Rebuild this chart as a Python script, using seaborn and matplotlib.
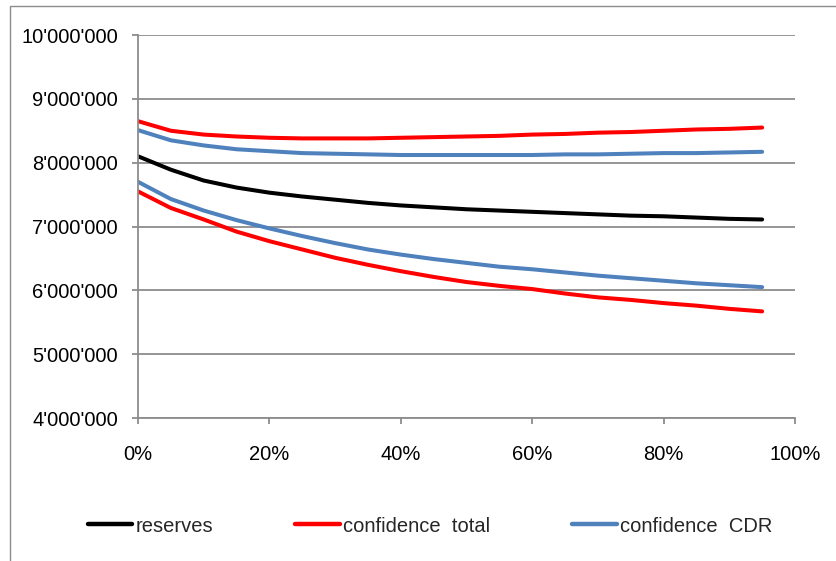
import numpy as np
import pandas as pd
import matplotlib
matplotlib.use("Agg")
import matplotlib.pyplot as plt
from matplotlib.ticker import FuncFormatter
from matplotlib.lines import Line2D
from matplotlib.patches import Rectangle
import seaborn as sns

# quantile level (share) on the x axis
level = [0.00, 0.05, 0.10, 0.15, 0.20, 0.25, 0.30, 0.35, 0.40, 0.45,
         0.50, 0.55, 0.60, 0.65, 0.70, 0.75, 0.80, 0.85, 0.90, 0.95]

reserves = [8.10, 7.89, 7.72, 7.61, 7.53, 7.47, 7.42, 7.37, 7.33, 7.30,
            7.27, 7.25, 7.23, 7.21, 7.19, 7.17, 7.16, 7.14, 7.12, 7.11]

total_upper = [8.65, 8.50, 8.44, 8.41, 8.39, 8.38, 8.38, 8.38, 8.39, 8.40,
               8.41, 8.42, 8.44, 8.45, 8.47, 8.48, 8.50, 8.52, 8.53, 8.55]
total_lower = [7.55, 7.29, 7.11, 6.92, 6.77, 6.64, 6.51, 6.40, 6.30, 6.21,
               6.13, 6.07, 6.02, 5.95, 5.89, 5.85, 5.80, 5.76, 5.71, 5.67]

cdr_upper = [8.51, 8.35, 8.27, 8.21, 8.18, 8.15, 8.14, 8.13, 8.12, 8.12,
             8.12, 8.12, 8.12, 8.13, 8.13, 8.14, 8.15, 8.15, 8.16, 8.17]
cdr_lower = [7.70, 7.43, 7.25, 7.10, 6.97, 6.85, 6.74, 6.64, 6.56, 6.49,
             6.43, 6.37, 6.33, 6.28, 6.23, 6.19, 6.15, 6.11, 6.08, 6.05]

series_names = ["reserves", "confidence  total", "confidence  CDR"]
colors = ["#000000", "#FF0000", "#4F81BD"]
y_ticks = [4_000_000, 5_000_000, 6_000_000, 7_000_000, 8_000_000, 9_000_000, 10_000_000]
x_ticks = [0.0, 0.2, 0.4, 0.6, 0.8, 1.0]

# long-format table: each curve is one (series, bound) unit
rows = []
for name, bound, vals in [
    (series_names[0], "mid", reserves),
    (series_names[1], "upper", total_upper),
    (series_names[1], "lower", total_lower),
    (series_names[2], "upper", cdr_upper),
    (series_names[2], "lower", cdr_lower),
]:
    for x, v in zip(level, vals):
        rows.append({"level": x, "value": v * 1_000_000, "series": name, "bound": bound})
df = pd.DataFrame(rows)

sns.set_theme(style="white")
plt.rcParams["font.family"] = ["Liberation Sans", "DejaVu Sans"]

W, H = 836, 561
fig = plt.figure(figsize=(W / 100, H / 100), dpi=100)
ax = fig.add_axes([138 / W, 1 - 418 / H, 657 / W, 383 / H])

grid_col = "#8C8C8C"
fs = 14.5

sns.lineplot(data=df, x="level", y="value", hue="series", units="bound",
             estimator=None, palette=dict(zip(series_names, colors)),
             hue_order=series_names, linewidth=2.9, legend=False, ax=ax,
             sort=False)
for ln in ax.lines:
    ln.set_solid_capstyle("round")
    ln.set_solid_joinstyle("round")

ax.set_xlim(0, 1)
ax.set_ylim(y_ticks[0], y_ticks[-1])
ax.set_xticks(x_ticks)
ax.set_yticks(y_ticks)
ax.xaxis.set_major_formatter(FuncFormatter(lambda v, p: f"{v * 100:.0f}%"))
ax.yaxis.set_major_formatter(FuncFormatter(lambda v, p: f"{int(round(v)):,}".replace(",", "'")))
ax.set_xlabel("")
ax.set_ylabel("")

ax.yaxis.grid(True, color=grid_col, linewidth=1.3)
ax.xaxis.grid(False)
ax.set_axisbelow(True)
for side in ["top", "right"]:
    ax.spines[side].set_visible(False)
for side in ["left", "bottom"]:
    ax.spines[side].set_color(grid_col)
    ax.spines[side].set_linewidth(1.3)

ax.tick_params(axis="y", which="major", length=4.5, width=1.3, color=grid_col,
               pad=10, labelsize=fs, labelcolor="black", left=True)
ax.tick_params(axis="x", which="major", length=4.5, width=1.3, color=grid_col,
               pad=15, labelsize=fs, labelcolor="black", bottom=True)

handles = [Line2D([0], [0], color=c, linewidth=3.2) for c in colors]
fig.legend(handles, series_names, loc="center", bbox_to_anchor=(430 / W, 1 - 526 / H),
           ncol=3, frameon=False, fontsize=fs, handlelength=2.2,
           handletextpad=0.15, columnspacing=4.1, borderpad=0, borderaxespad=0)

# outer chart frame (only its top and left edges fall inside the canvas)
fig.patches.append(Rectangle((9.5 / W, -0.5), 2.0, 1.5 - 6 / H, transform=fig.transFigure,
                             fill=False, edgecolor="#8C8C8C", linewidth=1.0,
                             clip_on=False))

fig.savefig("out.png", dpi=100)
